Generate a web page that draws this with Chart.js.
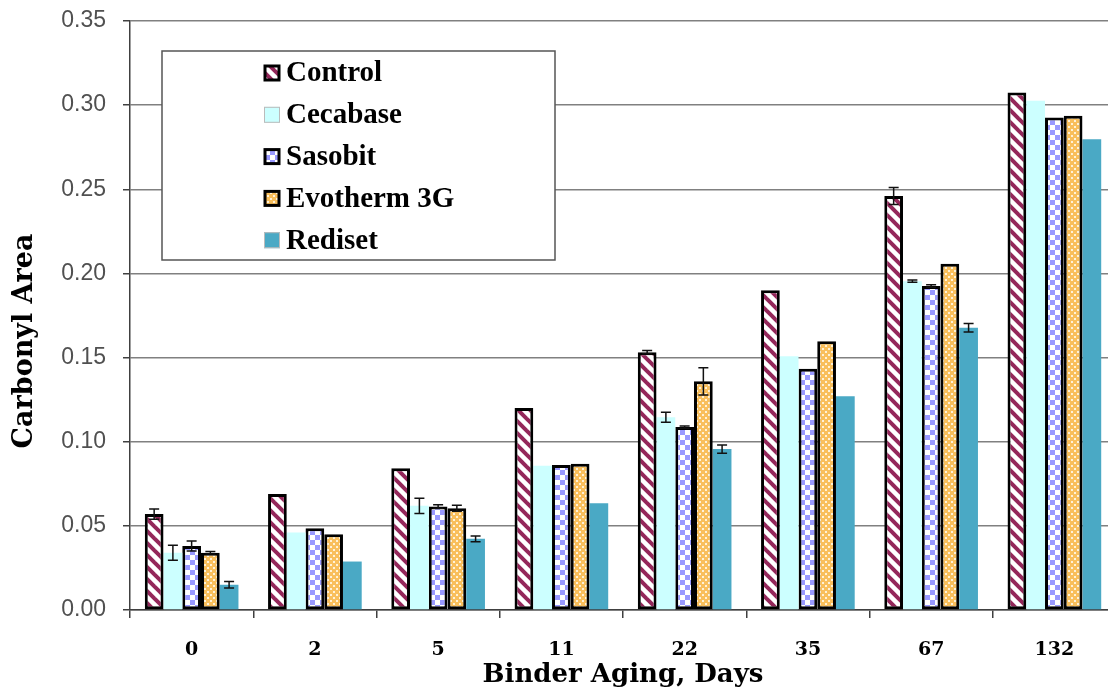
<!DOCTYPE html>
<html>
<head>
<meta charset="utf-8">
<script src="https://cdn.jsdelivr.net/npm/chart.js@4.4.0/dist/chart.umd.min.js"></script>
<style>
html, body { margin: 0; padding: 0; background: #fff; overflow: hidden; }
canvas { display: block; }
</style>
</head>
<body>
<canvas id="chart" width="1118" height="692"></canvas>
<script>
// data
var days = ['0', '2', '5', '11', '22', '35', '67', '132'];
var seriesNames = ['Control', 'Cecabase', 'Sasobit', 'Evotherm 3G', 'Rediset'];

var control  = [0.057, 0.0689, 0.0843, 0.120, 0.1532, 0.190, 0.246, 0.3075];
var cecabase = [0.034, 0.046, 0.0619, 0.0857, 0.1145, 0.1508, 0.1954, 0.3026];
var sasobit  = [0.038, 0.0486, 0.0615, 0.0861, 0.1087, 0.1433, 0.1925, 0.2927];
var evotherm = [0.034, 0.045, 0.0605, 0.0869, 0.1359, 0.1597, 0.2058, 0.2937];
var rediset  = [0.015, 0.0288, 0.0423, 0.0635, 0.0956, 0.127, 0.1677, 0.2798];

// error bars (+/-)
var controlErr  = [0.003, 0, 0, 0, 0.001, 0, 0.005, 0];
var cecabaseErr = [0.0045, 0, 0.0045, 0, 0.003, 0, 0.0007, 0];
var sasobitErr  = [0.003, 0, 0.001, 0, 0.0007, 0, 0.0007, 0];
var evothermErr = [0.0007, 0, 0.0018, 0, 0.0081, 0, 0, 0];
var redisetErr  = [0.002, 0, 0.0017, 0, 0.0025, 0, 0.0025, 0];

var yMin = 0, yMax = 0.35, yStep = 0.05;

function makeTile(size, draw) {
    var c = document.createElement('canvas');
    c.width = size; c.height = size;
    var g = c.getContext('2d');
    draw(g, size);
    return g.createPattern(c, 'repeat');
}

var stripes = makeTile(12, function (g, s) {
    g.fillStyle = '#fff';
    g.fillRect(0, 0, s, s);
    g.strokeStyle = '#94275a';
    g.lineWidth = 4;
    for (var k = -1; k <= 1; k++) {
        g.beginPath();
        g.moveTo(-2, -2 + k * s);
        g.lineTo(s + 2, s + 2 + k * s);
        g.stroke();
    }
});

var checks = makeTile(10, function (g, s) {
    g.fillStyle = '#fff';
    g.fillRect(0, 0, s, s);
    g.fillStyle = '#9999ff';
    g.fillRect(0, 0, 5, 5);
    g.fillRect(5, 5, 5, 5);
});

var dots = makeTile(6, function (g, s) {
    g.fillStyle = '#f9bf5c';
    g.fillRect(0, 0, s, s);
    g.fillStyle = '#fff2d8';
    g.fillRect(0, 0, 2, 2);
    g.fillRect(3, 3, 2, 2);
});

var errs = [controlErr, cecabaseErr, sasobitErr, evothermErr, redisetErr];

var errorBars = {
    id: 'errorBars',
    afterDatasetsDraw: function (chart) {
        var ctx = chart.ctx;
        var y = chart.scales.y;
        ctx.save();
        ctx.strokeStyle = '#111';
        ctx.lineWidth = 1.5;
        chart.data.datasets.forEach(function (ds, i) {
            var meta = chart.getDatasetMeta(i);
            meta.data.forEach(function (bar, j) {
                var e = errs[i][j];
                if (!e) return;
                var top = y.getPixelForValue(ds.data[j] + e);
                var bot = y.getPixelForValue(ds.data[j] - e);
                ctx.beginPath();
                ctx.moveTo(bar.x, top); ctx.lineTo(bar.x, bot);
                ctx.moveTo(bar.x - 5, top); ctx.lineTo(bar.x + 5, top);
                ctx.moveTo(bar.x - 5, bot); ctx.lineTo(bar.x + 5, bot);
                ctx.stroke();
            });
        });
        ctx.restore();
    }
};

var boxLegend = {
    id: 'boxLegend',
    afterDraw: function (chart) {
        var ctx = chart.ctx;
        ctx.save();
        ctx.fillStyle = '#fff';
        ctx.fillRect(162, 51, 393, 209);
        ctx.strokeStyle = '#555';
        ctx.lineWidth = 1.5;
        ctx.strokeRect(162, 51, 393, 209);
        ctx.font = 'bold 29px "Liberation Serif"';
        ctx.textBaseline = 'middle';
        chart.data.datasets.forEach(function (ds, i) {
            var cy = 73 + i * 41.8;
            ctx.fillStyle = ds.backgroundColor;
            ctx.fillRect(264, cy - 8, 16, 16);
            if (ds.borderWidth) {
                ctx.strokeStyle = '#000';
                ctx.lineWidth = 3;
                ctx.strokeRect(265, cy - 7, 14, 14);
            } else {
                ctx.strokeStyle = '#bbb';
                ctx.lineWidth = 1;
                ctx.strokeRect(264.5, cy - 7.5, 15, 15);
            }
            ctx.fillStyle = '#000';
            ctx.fillText(ds.label, 286, cy + 1);
        });
        // y axis title
        ctx.translate(25, 341);
        ctx.rotate(-Math.PI / 2);
        ctx.font = 'bold 27px "DejaVu Serif"';
        ctx.textAlign = 'center';
        ctx.fillStyle = '#000';
        ctx.fillText('Carbonyl Area', 0, 0);
        ctx.restore();
    }
};

new Chart(document.getElementById('chart'), {
    type: 'bar',
    data: {
        labels: days,
        datasets: [
            { label: seriesNames[0], data: control,  backgroundColor: stripes, borderColor: '#000', borderWidth: 3, borderSkipped: false },
            { label: seriesNames[1], data: cecabase, backgroundColor: '#ccffff', borderWidth: 0 },
            { label: seriesNames[2], data: sasobit,  backgroundColor: checks,  borderColor: '#000', borderWidth: 3, borderSkipped: false },
            { label: seriesNames[3], data: evotherm, backgroundColor: dots,    borderColor: '#000', borderWidth: 3, borderSkipped: false },
            { label: seriesNames[4], data: rediset,  backgroundColor: '#4aa9c5', borderWidth: 0 }
        ]
    },
    options: {
        responsive: false,
        animation: false,
        devicePixelRatio: 1,
        layout: { padding: { top: 21, right: 2, left: 0, bottom: 0 } },
        datasets: { bar: { categoryPercentage: 0.76, barPercentage: 1.0 } },
        plugins: { legend: { display: false }, tooltip: { enabled: false } },
        scales: {
            x: {
                afterFit: function (s) { s.height = 82; s.paddingLeft = 0; s.paddingRight = 0; },
                grid: { drawOnChartArea: false, tickLength: 8, color: '#404040', lineWidth: 1.5, offset: true },
                border: { color: '#404040', width: 1.5 },
                ticks: { color: '#000', padding: 21, font: { family: 'DejaVu Serif', size: 19, weight: 'bold' } },
                title: {
                    display: true, text: 'Binder Aging, Days', color: '#000',
                    padding: { top: 0, bottom: 1 },
                    font: { family: 'DejaVu Serif', size: 26, weight: 'bold' }
                }
            },
            y: {
                min: yMin, max: yMax,
                afterFit: function (s) { s.width = 130; s.paddingTop = 0; s.paddingBottom = 0; },
                grid: { color: '#808080', lineWidth: 1.5, tickLength: 7, tickColor: '#404040' },
                border: { color: '#404040', width: 1.5 },
                ticks: {
                    stepSize: yStep, padding: 17, color: '#505050',
                    font: { family: 'Liberation Sans', size: 23 },
                    callback: function (v) { return v.toFixed(2); }
                }
            }
        }
    },
    plugins: [errorBars, boxLegend]
});
</script>
</body>
</html>
